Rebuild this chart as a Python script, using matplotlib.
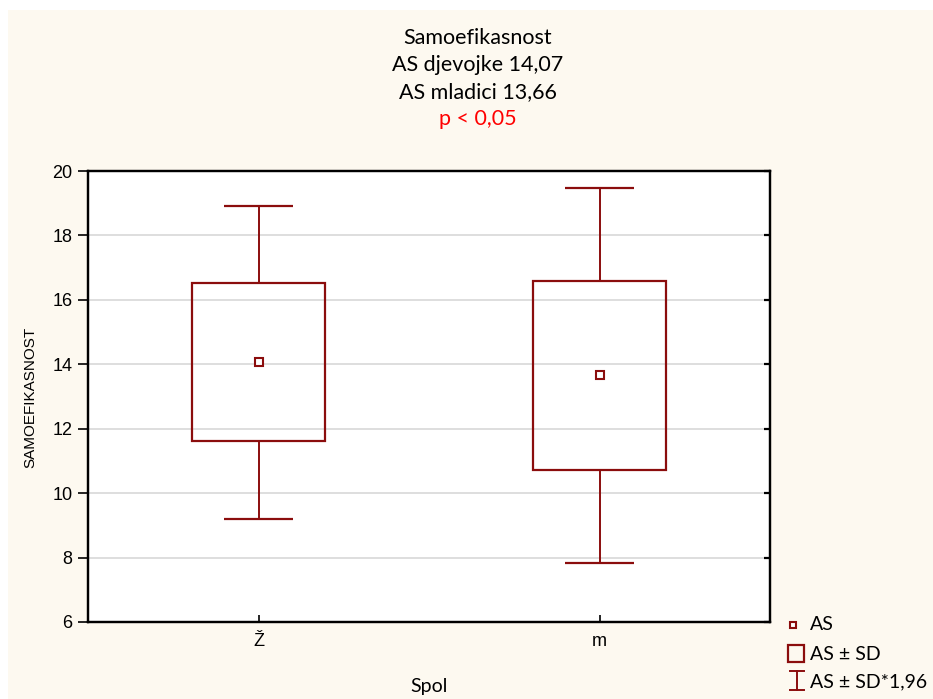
import numpy as np
import matplotlib.pyplot as plt
from matplotlib.patches import Rectangle
from matplotlib.lines import Line2D

# data
groups = ['Ž', 'm']
means = [14.07, 13.66]
sd_lo = [11.62, 10.72]
sd_hi = [16.53, 16.60]
ci_lo = [9.20, 7.83]
ci_hi = [18.92, 19.47]
yticks = [6, 8, 10, 12, 14, 16, 18, 20]

red = '#8b0d0d'
W, H = 933, 699

fig = plt.figure(figsize=(W / 100, H / 100), dpi=100, facecolor='white')
# cream background panel
fig.add_artist(Rectangle((8 / W, 0), 1 - 8 / W, 1 - 10 / H, transform=fig.transFigure,
                         facecolor='#fdf9f0', edgecolor='none', zorder=-10))

ax = fig.add_axes([88 / W, 1 - 622 / H, (770 - 88) / W, (622 - 171) / H])
ax.set_facecolor('white')
x = np.arange(len(groups))

ax.bar(x, np.array(sd_hi) - np.array(sd_lo), bottom=sd_lo, width=0.39,
       fill=False, edgecolor=red, linewidth=1.6, zorder=3)
ax.vlines(x, ci_lo, sd_lo, color=red, linewidth=1.4, zorder=3)
ax.vlines(x, sd_hi, ci_hi, color=red, linewidth=1.4, zorder=3)
ax.hlines(ci_lo, x - 0.1, x + 0.1, color=red, linewidth=1.6, zorder=3)
ax.hlines(ci_hi, x - 0.1, x + 0.1, color=red, linewidth=1.6, zorder=3)
ax.plot(x, means, 's', ms=6, mfc='white', mec=red, mew=1.5, zorder=4)

ax.set_xlim(-0.5, 1.5)
ax.set_ylim(6, 20)
ax.set_yticks(yticks)
ax.set_xticks(x)
ax.set_xticklabels(groups, fontsize=13, family='Liberation Sans')
for lb in ax.get_yticklabels():
    lb.set_fontsize(13)
    lb.set_family('Liberation Sans')
ax.yaxis.grid(True, color='#d8d8d8', linewidth=1.2, zorder=0)
ax.set_axisbelow(True)
ax.tick_params(axis='y', direction='out', length=7, width=1.2, pad=4)
ax.tick_params(axis='x', direction='in', length=5, width=1.2, pad=8)
# inward ticks on the right side
ax2 = ax.twinx()
ax2.set_ylim(6, 20)
ax2.set_yticks(yticks)
ax2.set_yticklabels([])
ax2.tick_params(direction='in', length=4, width=1.6, color='black')
for a in (ax, ax2):
    for s in a.spines.values():
        s.set_linewidth(1.6)
        s.set_color('black')

ax.set_xlabel('Spol', fontsize=14, family='Lato', labelpad=20)
fig.text(30 / W, 1 - 397 / H, 'SAMOEFIKASNOST', rotation=90, fontsize=11,
         family='Liberation Sans', ha='center', va='center')

# title lines
titles = [('Samoefikasnost', 'black'), ('AS djevojke 14,07', 'black'),
          ('AS mladici 13,66', 'black'), ('p < 0,05', 'red')]
for i, (t, c) in enumerate(titles):
    fig.text(478 / W, 1 - (38 + 27 * i) / H, t, color=c, fontsize=15.5,
             family='Lato', ha='center', va='center')

# legend
fx = lambda px: px / W
fy = lambda py: 1 - py / H
fig.add_artist(Line2D([fx(793)], [fy(625)], marker='s', ms=5, mfc='white', mec=red,
                      mew=1.5, transform=fig.transFigure))
fig.add_artist(Rectangle((fx(788), fy(662)), 16 / W, 17 / H, transform=fig.transFigure,
                         fill=False, edgecolor=red, linewidth=1.6))
fig.add_artist(Line2D([fx(797), fx(797)], [fy(671), fy(690)], color=red, lw=1.4,
                      transform=fig.transFigure))
fig.add_artist(Line2D([fx(790), fx(804)], [fy(671), fy(671)], color=red, lw=1.4,
                      transform=fig.transFigure))
fig.add_artist(Line2D([fx(790), fx(804)], [fy(690), fy(690)], color=red, lw=1.4,
                      transform=fig.transFigure))
for py, t in [(625, 'AS'), (654, 'AS ± SD'), (682, 'AS ± SD*1,96')]:
    fig.text(fx(810), fy(py), t, fontsize=14, family='Lato', va='center')

fig.savefig('out.png', dpi=100, facecolor=fig.get_facecolor())
